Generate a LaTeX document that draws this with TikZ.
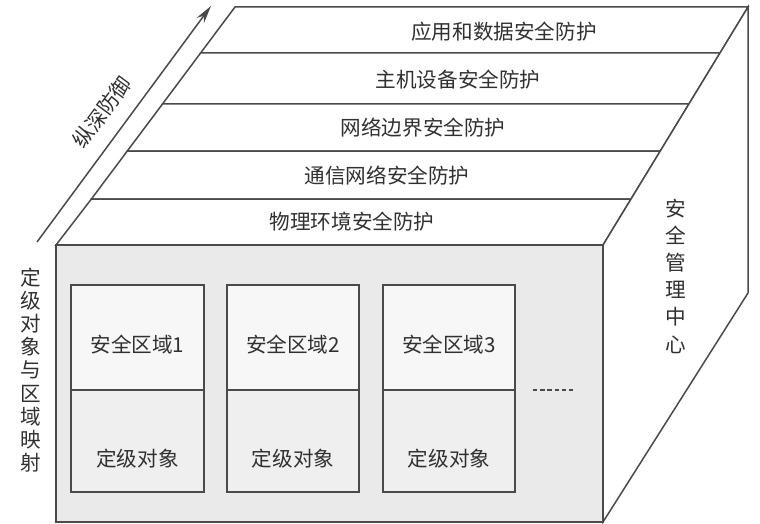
\documentclass[tikz,border=0pt]{standalone}
\usepackage{fontspec}
\newfontfamily\cjk{Noto Sans CJK SC}
\usetikzlibrary{arrows.meta}
\definecolor{edge}{HTML}{4A4A4A}
\definecolor{txt}{HTML}{303030}
\definecolor{facegray}{HTML}{EAEAEA}
\definecolor{boxtop}{HTML}{F7F7F7}
\definecolor{boxbot}{HTML}{EFEFEF}
\tikzset{
  face/.style={draw=edge, line width=0.75pt, line join=miter},
  lbl/.style={font=\cjk\fontsize{10.3}{12}\selectfont, text=txt, inner sep=0pt},
  vlbl/.style={font=\cjk\fontsize{10.3}{13.6}\selectfont, text=txt, inner sep=0pt, align=center},
  vlbltight/.style={font=\cjk\fontsize{10.3}{11.6}\selectfont, text=txt, inner sep=0pt, align=center},
  zone/.style={draw=edge, line width=0.75pt, fill=boxtop},
  obj/.style={draw=edge, line width=0.75pt, fill=boxbot},
}
\begin{document}
\begin{tikzpicture}[x=0.5pt,y=-0.5pt]
\useasboundingbox (0,0) rectangle (760,524);
\fill[white] (0,0) rectangle (760,524);
% corners
\coordinate (FTL) at (56,245);
\coordinate (FTR) at (603,245);
\coordinate (FBL) at (56,522);
\coordinate (FBR) at (603,522);
\coordinate (BTL) at (235,7);
\coordinate (BTR) at (748,7);
\coordinate (BBR) at (748,293);
% top face layers
\draw[face, fill=white] (BTL) -- (BTR) -- (720,53) -- (200.6,53) -- cycle;
\draw[face, fill=white] (200.6,53) -- (720,53) -- (688.9,104) -- (162.5,104) -- cycle;
\draw[face, fill=white] (162.5,104) -- (688.9,104) -- (660.3,151) -- (127.3,151) -- cycle;
\draw[face, fill=white] (127.3,151) -- (660.3,151) -- (631,199) -- (91.4,199) -- cycle;
\draw[face, fill=white] (91.4,199) -- (631,199) -- (FTR) -- (FTL) -- cycle;
% right face
\draw[face, fill=white] (FTR) -- (BTR) -- (BBR) -- (FBR) -- cycle;
% front face
\draw[face, fill=facegray] (FTL) rectangle (FBR);
% layer labels
\node[lbl] (l1) at (504,32) {应用和数据安全防护};
\node[lbl] (l2) at (458,80) {主机设备安全防护};
\node[lbl] (l3) at (423,128) {网络边界安全防护};
\node[lbl] (l4) at (387,176) {通信网络安全防护};
\node[lbl] (l5) at (352,222) {物理环境安全防护};
% zones
\foreach \i/\xa/\xb in {1/71/204, 2/227/359, 3/383/515}{
  \draw[zone] (\xa,285) rectangle (\xb,390);
  \draw[obj] (\xa,390) rectangle (\xb,492);
  \node[lbl] (z\i) at ({(\xa+\xb)/2},345) {安全区域\i};
  \node[lbl] (o\i) at ({(\xa+\xb)/2},459) {定级对象};
}
\coordinate (d1) at (533,390);
\coordinate (d2) at (576,390);
\draw[edge, line width=1.3pt, dash pattern=on 2.2pt off 1.4pt] (d1) -- (d2);
% vertical labels
\node[vlbl] (mgmt) at (676,276) {安\\全\\管\\理\\中\\心};
\node[vlbltight] (map) at (31,370) {定\\级\\对\\象\\与\\区\\域\\映\\射};
% arrow
\coordinate (a1) at (37,242);
\coordinate (a2) at (211,6);
\draw[edge, line width=0.75pt, -{Stealth[length=9pt,width=4.5pt]}] (a1) -- (a2);
\node[lbl, rotate=53.6] (depth) at (102,112) {纵深防御};
\end{tikzpicture}
\end{document}
